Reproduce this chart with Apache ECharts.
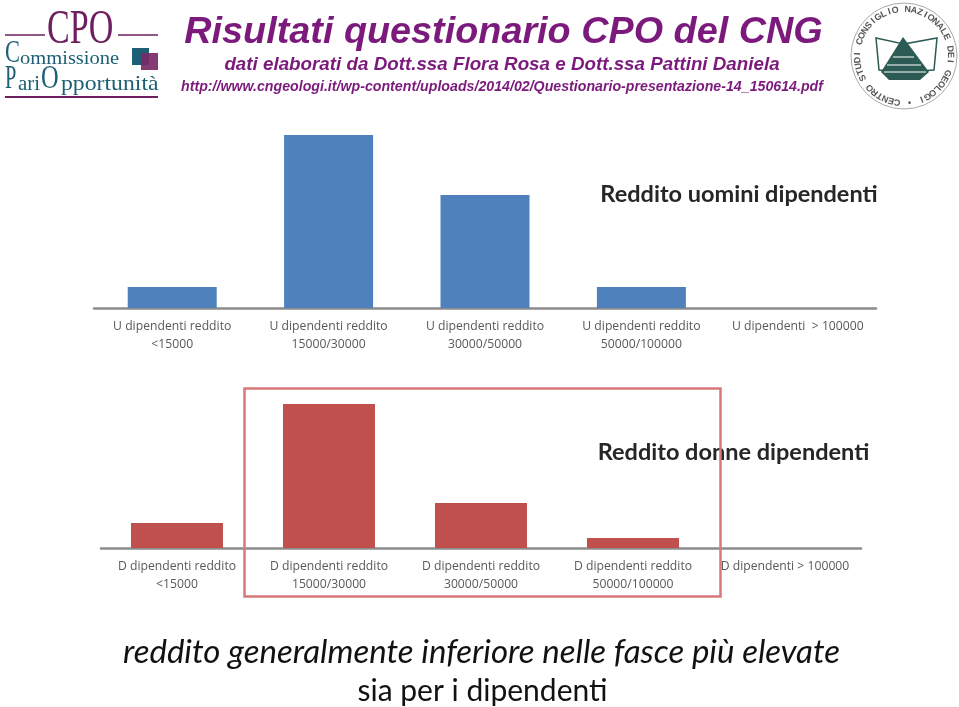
<!DOCTYPE html>
<html><head><meta charset="utf-8">
<style>html,body{margin:0;padding:0;background:#fff}#c{width:959px;height:707px}</style>
<script src="https://cdn.jsdelivr.net/npm/echarts@6/dist/echarts.min.js"></script>
</head><body><div id="c"></div>
<script>
const menCategories = ['U dipendenti reddito\n<15000','U dipendenti reddito\n15000/30000','U dipendenti reddito\n30000/50000','U dipendenti reddito\n50000/100000','U dipendenti  > 100000'];
const womenCategories = ['D dipendenti reddito\n<15000','D dipendenti reddito\n15000/30000','D dipendenti reddito\n30000/50000','D dipendenti reddito\n50000/100000','D dipendenti > 100000'];
const menValues = [21,173,113,21,0];
const womenValues = [25,144,45,10,0];
const sealText = 'CONSIGLIO NAZIONALE DEI GEOLOGI • CENTRO STUDI ';

const purple='#7b1a7c', plum='#6d1f5f', teal='#1d5f74', ink='#262626', green='#2c5a55';
const txt=(text,x,y,font,fill,align)=>({type:'text',silent:true,style:{text,x,y,font,fill,align:align||'center',verticalAlign:'middle'}});
const scaled=(text,x,y,font,fill,scaleX)=>({type:'text',silent:true,x,y,scaleX,style:{text,font,fill,align:'left',verticalAlign:'middle'}});
const line=(x1,y1,x2,y2,stroke,lineWidth)=>({type:'line',silent:true,shape:{x1,y1,x2,y2},style:{stroke,lineWidth}});
const g=[];
// headings
g.push(txt('Risultati questionario CPO del CNG',503.5,33,'italic bold 37.8px "Liberation Sans"',purple));
g.push(txt('dati elaborati da Dott.ssa Flora Rosa e Dott.ssa Pattini Daniela',502,65,'italic bold 18.8px "Liberation Sans"',purple));
g.push(txt('http://www.cngeologi.it/wp-content/uploads/2014/02/Questionario-presentazione-14_150614.pdf',502,87,'italic bold 14.2px "Liberation Sans"',purple));
// CPO logo
g.push(line(5,35,45,35,plum,1.5),line(118,35,158,35,plum,1.5),line(5,97,158,97,plum,2));
g.push(scaled('CPO',47,30,'48px "Liberation Serif"',plum,0.71));
g.push(scaled('C',5,54,'32px "Liberation Serif"',teal,0.7));
g.push(scaled('ommissione',20,59,'19px "Liberation Serif"',teal,1.08));
g.push(scaled('P',5,79,'34px "Liberation Serif"',teal,0.6));
g.push(scaled('ari',18,84,'21px "Liberation Serif"',teal,1));
g.push(scaled('O',41,79,'34px "Liberation Serif"',teal,0.72));
g.push(scaled('pportunità',61,84,'21px "Liberation Serif"',teal,1.13));
g.push({type:'rect',silent:true,shape:{x:132,y:48,width:17,height:17},style:{fill:teal}});
g.push({type:'rect',silent:true,shape:{x:141,y:53,width:17,height:17},style:{fill:'#7a2a68',opacity:.92}});
// seal
const cx=904,cy=56;
g.push({type:'circle',silent:true,shape:{cx,cy,r:53},style:{fill:'#fff',stroke:'#aaa',lineWidth:1}});
[...sealText].forEach((ch,i,a)=>{
  const ang=(-72+i*360/a.length)*Math.PI/180;
  g.push({type:'text',silent:true,x:cx+46.5*Math.sin(ang),y:cy-46.5*Math.cos(ang),rotation:-ang,
    style:{text:ch,font:'bold 9px "Liberation Sans"',fill:'#555',align:'center',verticalAlign:'middle'}});
});
g.push({type:'polygon',silent:true,shape:{points:[[876,38],[904,44],[904,72],[879,70]]},style:{fill:'#fff',stroke:green,lineWidth:1.5}});
g.push({type:'polygon',silent:true,shape:{points:[[937,38],[904,44],[904,72],[934,70]]},style:{fill:'#fff',stroke:green,lineWidth:1.5}});
g.push({type:'polygon',silent:true,shape:{points:[[903,37],[929,72],[920,80],[889,80],[881,72]]},style:{fill:green}});
g.push(line(893,57,914,57,'#fff',1),line(887,65,921,65,'#fff',1),line(884,72,926,72,'#fff',1));
// annotations
g.push(txt('Reddito uomini dipendenti',739,194,'bold 23.5px Lato',ink));
g.push(txt('Reddito donne dipendenti',733.5,452,'bold 23.5px Lato',ink));
g.push({type:'rect',silent:true,z:10,shape:{x:244.5,y:388.5,width:476,height:208},style:{fill:'none',stroke:'#d9787a',lineWidth:2.5}});
g.push(txt('reddito generalmente inferiore nelle fasce più elevate',481.5,652,'italic 33px Lato','#111'));
g.push(txt('sia per i dipendenti',482.5,691,'30px Lato','#111'));

const axisLabel={color:'#595959',fontFamily:'Open Sans',fontSize:12.2,lineHeight:18,margin:10,interval:0};
const xAxis=(i,data)=>({type:'category',gridIndex:i,data,axisTick:{show:false},axisLine:{lineStyle:{color:'#8c8c8c',width:2.5}},axisLabel});
const yAxis=(i,max)=>({type:'value',gridIndex:i,min:0,max,show:false,splitLine:{show:false}});
const chart=echarts.init(document.getElementById('c'),null,{renderer:'canvas'});
chart.setOption({
  animation:false,backgroundColor:'#fff',
  grid:[{left:94,width:782,top:135,height:173},{left:101,width:760,top:404,height:144}],
  xAxis:[xAxis(0,menCategories),xAxis(1,womenCategories)],
  yAxis:[yAxis(0,173),yAxis(1,144)],
  series:[
    {type:'bar',xAxisIndex:0,yAxisIndex:0,data:menValues,barWidth:89,itemStyle:{color:'#4f81bd'}},
    {type:'bar',xAxisIndex:1,yAxisIndex:1,data:womenValues,barWidth:92,itemStyle:{color:'#c0504d'}}
  ],
  graphic:{elements:g}
});
</script></body></html>
